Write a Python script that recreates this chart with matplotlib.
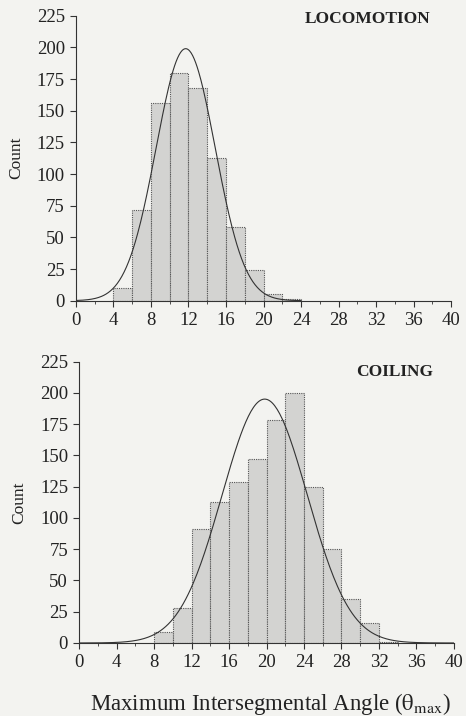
import numpy as np
import matplotlib
matplotlib.use("Agg")
import matplotlib.pyplot as plt
from matplotlib.ticker import MultipleLocator

plt.rcParams["font.family"] = ["Liberation Serif", "DejaVu Serif"]
plt.rcParams["mathtext.fontset"] = "stix"

BG = "#f3f3f0"
BAR = "#d3d3d1"
EDGE = "#555555"
INK = "#333333"

# bin edges (width 2) and counts
loco_bins = [4, 6, 8, 10, 12, 14, 16, 18, 20, 22]
loco_counts = [10, 72, 156, 180, 168, 113, 58, 24, 5, 1]
coil_bins = [8, 10, 12, 14, 16, 18, 20, 22, 24, 26, 28, 30, 32]
coil_counts = [9, 28, 91, 113, 129, 147, 178, 200, 125, 75, 35, 16, 1]

# fitted normal curves: (peak height, mean, sd, x range)
loco_fit = (199, 11.7, 3.15, 0, 24)
coil_fit = (195, 19.8, 4.55, 0, 40)

BIN_W = 2


def draw(ax, bins, counts, fit, label, label_y):
    ax.set_facecolor(BG)
    ax.bar(bins, counts, width=BIN_W, align="edge", color=BAR,
           edgecolor=EDGE, linewidth=0.8, linestyle=(0, (1, 1)), zorder=2)
    peak, mu, sd, x0, x1 = fit
    xs = np.linspace(x0, x1, 300)
    ax.plot(xs, peak * np.exp(-(xs - mu) ** 2 / (2 * sd ** 2)),
            color=INK, linewidth=0.8, zorder=3)
    ax.set_xlim(0, 40)
    ax.set_ylim(0, 225)
    ax.xaxis.set_major_locator(MultipleLocator(4))
    ax.xaxis.set_minor_locator(MultipleLocator(2))
    ax.yaxis.set_major_locator(MultipleLocator(25))
    for s in ("top", "right"):
        ax.spines[s].set_visible(False)
    for s in ("left", "bottom"):
        ax.spines[s].set_color(INK)
        ax.spines[s].set_linewidth(0.8)
    ax.tick_params(which="major", length=4, width=0.8, color=INK,
                   labelsize=13.5, labelcolor="#222222", pad=4)
    ax.tick_params(which="minor", length=2, width=0.6, color=INK)
    ax.set_ylabel("Count", fontsize=12.5, color="#222222", labelpad=9)
    ax.text(0.945, label_y, label, transform=ax.transAxes, ha="right", va="center",
            fontsize=12.5, fontweight="bold", color="#222222")


fig = plt.figure(figsize=(4.66, 7.16), dpi=100)
fig.patch.set_facecolor(BG)
ax1 = fig.add_axes([0.163, 0.58, 0.805, 0.398])
ax2 = fig.add_axes([0.170, 0.102, 0.804, 0.393])

draw(ax1, loco_bins, loco_counts, loco_fit, "LOCOMOTION", 0.99)
draw(ax2, coil_bins, coil_counts, coil_fit, "COILING", 0.963)

fig.text(0.58, 0.008, r"Maximum Intersegmental Angle ($\mathrm{\theta}_{\mathrm{max}}$)",
         ha="center", va="baseline", fontsize=16.5, color="#222222")

fig.savefig("out.png", dpi=100, facecolor=BG)
